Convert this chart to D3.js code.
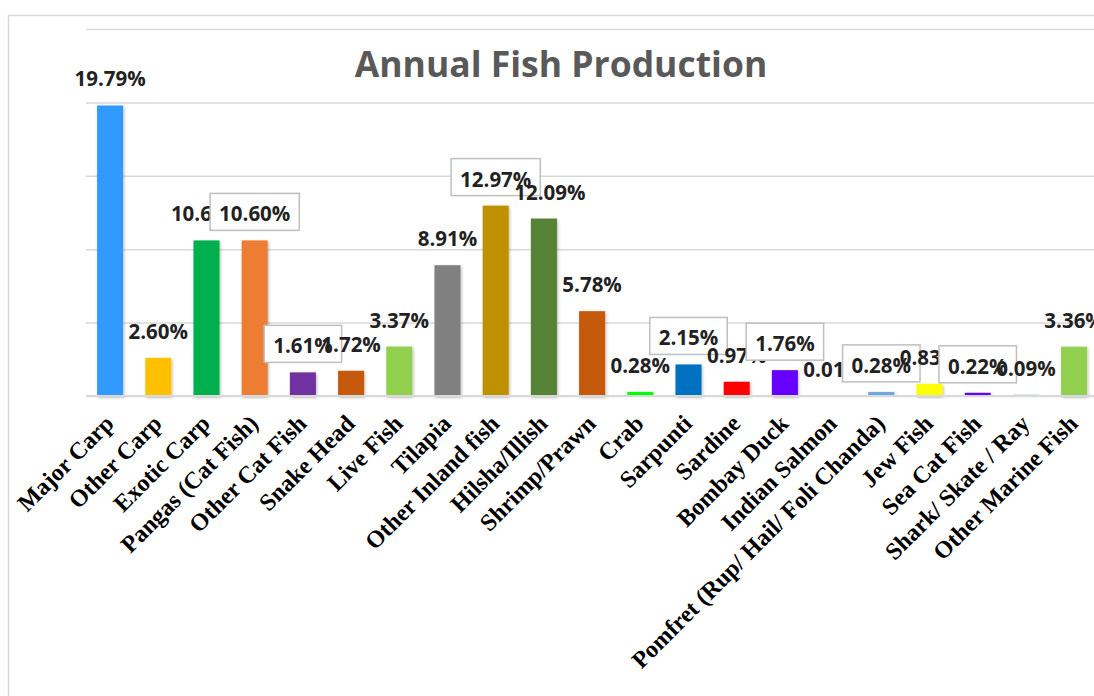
<!DOCTYPE html>
<html>
<head>
<meta charset="utf-8">
<script src="https://cdn.jsdelivr.net/npm/d3@7"></script>
<style>
  body { margin: 0; background: #fff; }
  #chart svg { display: block; }
</style>
</head>
<body>
<div id="chart"></div>
<script>
// Annual fish production share by category (percent)

const categories = [
  "Major Carp", "Other Carp", "Exotic Carp", "Pangas (Cat Fish)", "Other Cat Fish",
  "Snake Head", "Live Fish", "Tilapia", "Other Inland fish", "Hilsha/Illish",
  "Shrimp/Prawn", "Crab", "Sarpunti", "Sardine", "Bombay Duck", "Indian Salmon",
  "Pomfret (Rup/ Hail/ Foli Chanda)", "Jew Fish", "Sea Cat Fish", "Shark/ Skate / Ray",
  "Other Marine Fish"
];
const shares = [19.79, 2.60, 10.60, 10.60, 1.61, 1.72, 3.37, 8.91, 12.97, 12.09,
  5.78, 0.28, 2.15, 0.97, 1.76, 0.01, 0.28, 0.83, 0.22, 0.09, 3.36];
const barColors = ["#3399ff", "#ffc000", "#00b050", "#ed7d31", "#7030a0",
  "#c55a11", "#92d050", "#808080", "#bf9000", "#548235",
  "#c55a11", "#00ff00", "#0070c0", "#ff0000", "#6600ff", "#5b9bd5",
  "#6fa8dc", "#ffff00", "#6600ff", "#9dc3e6", "#92d050"];
const yTicks = [0, 5, 10, 15, 20, 25];

// labels that Excel drew inside a bordered callout box
const boxedLabels = ["Pangas (Cat Fish)", "Other Cat Fish", "Other Inland fish",
  "Sarpunti", "Bombay Duck", "Pomfret (Rup/ Hail/ Foli Chanda)", "Sea Cat Fish"];
const labelShift = { "Hilsha/Illish": 6 };

(function () {
  const W = 1094, H = 696;
  const plot = { left: 86, right: 86 + 21 * 48.2, top: 29, bottom: 396 };

  const svg = d3.select("#chart").append("svg")
      .attr("width", W)
      .attr("height", H)
      .style("background", "#fff");

  const defs = svg.append("defs");
  defs.append("filter")
      .attr("id", "shadow")
      .attr("x", "-30%").attr("y", "-10%").attr("width", "160%").attr("height", "130%")
    .append("feDropShadow")
      .attr("dx", 1).attr("dy", 1.5).attr("stdDeviation", 1.4)
      .attr("flood-color", "#000").attr("flood-opacity", 0.28);

  // chart frame
  svg.append("path")
      .attr("d", `M8.5,${H} V15.5 H${W}`)
      .attr("fill", "none")
      .attr("stroke", "#d9d9d9")
      .attr("stroke-width", 1.5);

  const x = d3.scaleBand()
      .domain(categories)
      .range([plot.left, plot.right])
      .paddingInner(0.46)
      .paddingOuter(0.23);

  const y = d3.scaleLinear()
      .domain([0, 25])
      .range([plot.bottom, plot.top]);

  // gridlines
  svg.append("g")
      .attr("transform", `translate(${plot.left},0)`)
      .call(d3.axisLeft(y).tickValues(yTicks).tickSize(-(W - plot.left)).tickFormat(""))
      .call(g => g.select(".domain").remove())
      .call(g => g.selectAll(".tick line").attr("stroke", "#d9d9d9").attr("stroke-width", 1.5));

  // bars
  svg.append("g").selectAll("rect")
    .data(categories)
    .join("rect")
      .attr("x", d => x(d))
      .attr("y", (d, i) => y(shares[i]))
      .attr("width", x.bandwidth())
      .attr("height", (d, i) => y(0) - y(shares[i]))
      .attr("fill", (d, i) => barColors[i])
      .attr("filter", "url(#shadow)");

  // baseline
  svg.append("line")
      .attr("x1", plot.left).attr("x2", W)
      .attr("y1", y(0)).attr("y2", y(0))
      .attr("stroke", "#d9d9d9")
      .attr("stroke-width", 2);

  // category axis
  svg.append("g")
      .attr("transform", `translate(0,${y(0)})`)
      .call(d3.axisBottom(x).tickSize(0).tickPadding(0))
      .call(g => g.select(".domain").remove())
      .selectAll("text")
      .attr("font-family", "'Liberation Serif', 'Times New Roman', serif")
      .attr("font-weight", "bold")
      .attr("font-size", "24px")
      .attr("fill", "#000")
      .attr("text-anchor", "end")
      .attr("dy", null)
      .attr("y", null)
      .attr("transform", "translate(5,29) rotate(-45)");

  // data labels, drawn in point order so later ones overlap earlier ones
  const labels = svg.append("g")
      .attr("font-family", "'Open Sans', 'Liberation Sans', sans-serif")
      .attr("font-weight", "bold")
      .attr("font-size", "20.5px")
      .attr("fill", "#222");

  categories.forEach((c, i) => {
    const cx = x(c) + x.bandwidth() / 2 + (labelShift[c] || 0);
    const by = y(shares[i]) - 19;
    const g = labels.append("g");
    const rect = g.append("rect");
    const t = g.append("text")
        .attr("x", cx)
        .attr("y", by)
        .attr("text-anchor", "middle")
        .text(shares[i].toFixed(2) + "%");
    if (boxedLabels.includes(c)) {
      const w = t.node().getComputedTextLength() + 18;
      rect.attr("x", cx - w / 2)
          .attr("y", by - 28)
          .attr("width", w)
          .attr("height", 37)
          .attr("fill", "#fff")
          .attr("stroke", "#bfbfbf")
          .attr("stroke-width", 1.5);
    } else {
      rect.remove();
    }
  });

  // title
  svg.append("text")
      .attr("x", 561)
      .attr("y", 77)
      .attr("text-anchor", "middle")
      .attr("font-family", "'Open Sans', 'Liberation Sans', sans-serif")
      .attr("font-weight", "bold")
      .attr("font-size", "35.5px")
      .attr("fill", "#595959")
      .text("Annual Fish Production");
})();
</script>
</body>
</html>
